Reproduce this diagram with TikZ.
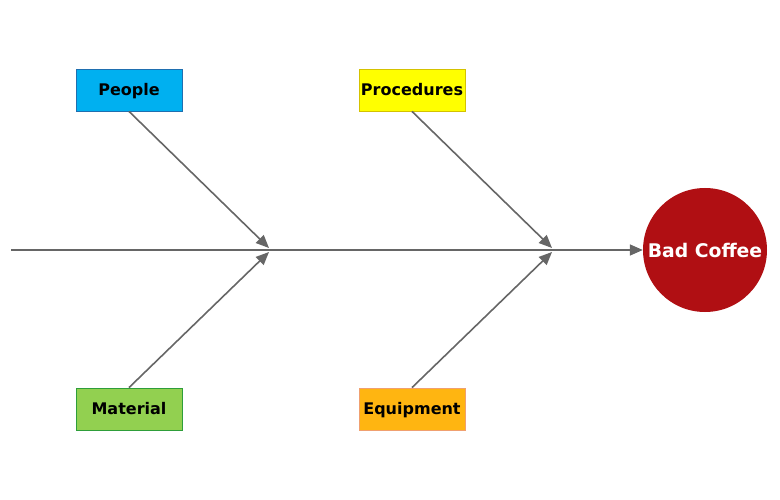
\documentclass[tikz,border=0pt]{standalone}
\usepackage{fontspec}
\setmainfont{DejaVu Sans}
\usetikzlibrary{arrows.meta}
\definecolor{linegray}{HTML}{666666}
\definecolor{peoplefill}{HTML}{00B0F0}
\definecolor{peopledraw}{HTML}{1F6FB0}
\definecolor{procfill}{HTML}{FFFF00}
\definecolor{procdraw}{HTML}{D4C200}
\definecolor{matfill}{HTML}{92D050}
\definecolor{matdraw}{HTML}{2E9E3A}
\definecolor{eqfill}{HTML}{FFB511}
\definecolor{eqdraw}{HTML}{F0A070}
\definecolor{effectred}{HTML}{B00F13}
\tikzset{
  cause/.style={draw, line width=0.8pt, minimum width=106pt, minimum height=42pt, inner sep=0pt,
    text height=10.5pt, text depth=0pt,
    font=\fontsize{16pt}{19pt}\selectfont\bfseries, text=black},
  bone/.style={draw=linegray, line width=1.6pt, -{Triangle[length=13pt,width=11pt]}},
  effect/.style={circle, fill=effectred, minimum size=124pt, inner sep=0pt,
    font=\fontsize{18.8pt}{22pt}\selectfont\bfseries, text=white}
}
\begin{document}
\begin{tikzpicture}[x=1pt,y=-1pt]
\useasboundingbox (0,0) rectangle (780,500);
\node[cause, fill=peoplefill, draw=peopledraw] (people) at (129,90) {People};
\node[cause, fill=procfill, draw=procdraw] (proc) at (412,90) {Procedures};
\node[cause, fill=matfill, draw=matdraw] (mat) at (129,409) {Material};
\node[cause, fill=eqfill, draw=eqdraw] (eq) at (412,409) {Equipment};
\node[effect] (effect) at (705,250) {Bad Coffee};
\coordinate (tail) at (11,250);
\coordinate (j1a) at (269,248);
\coordinate (j1b) at (269,252);
\coordinate (j2a) at (552,248);
\coordinate (j2b) at (552,252);
\draw[bone] (tail) -- (effect.west);
\draw[bone] (people.south) -- (j1a);
\draw[bone] (mat.north) -- (j1b);
\draw[bone] (proc.south) -- (j2a);
\draw[bone] (eq.north) -- (j2b);
\end{tikzpicture}
\end{document}
